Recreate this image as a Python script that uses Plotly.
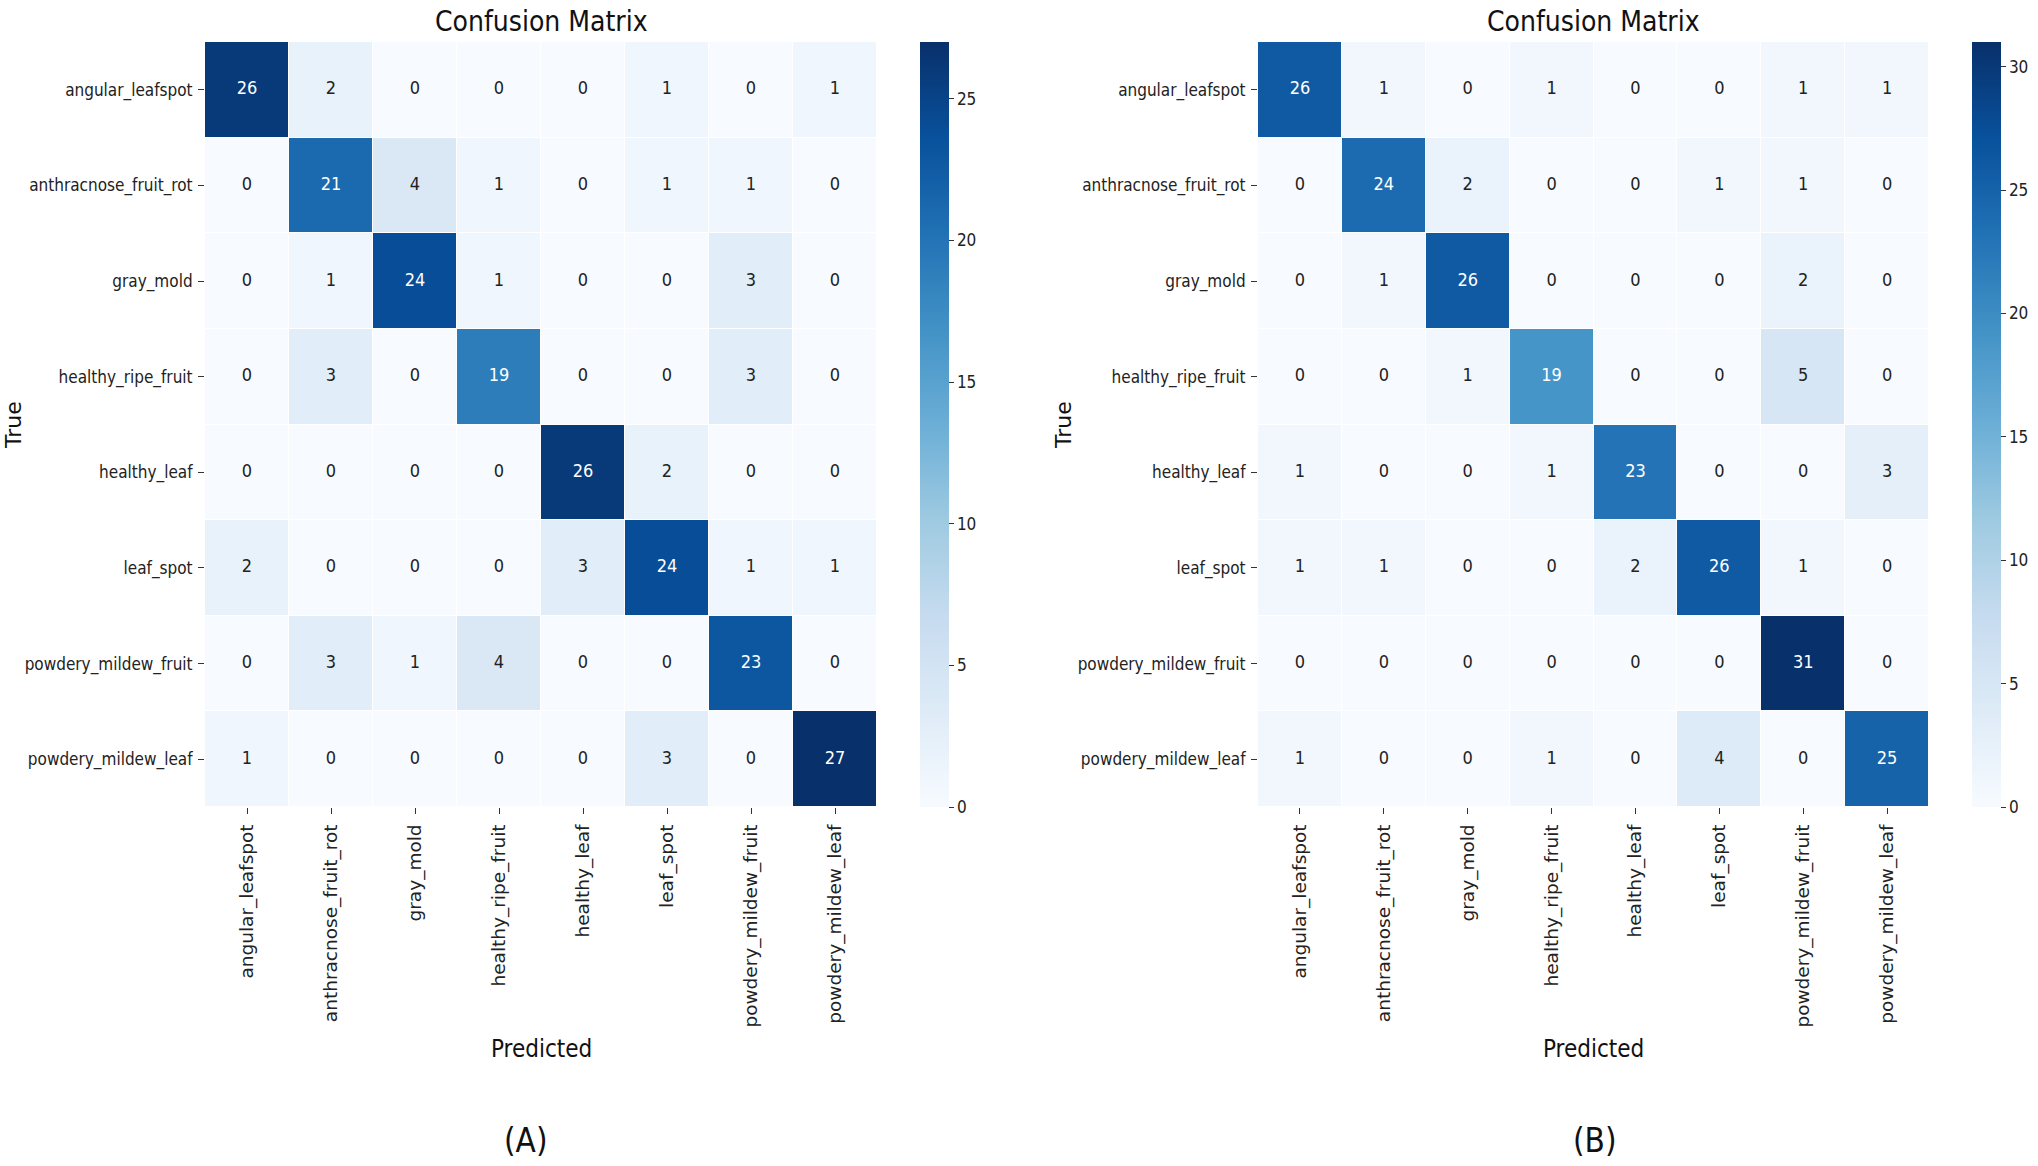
from plotly import graph_objects as go
from plotly.colors import sequential

# class names (rows = true, columns = predicted)
classes = [
    "angular_leafspot",
    "anthracnose_fruit_rot",
    "gray_mold",
    "healthy_ripe_fruit",
    "healthy_leaf",
    "leaf_spot",
    "powdery_mildew_fruit",
    "powdery_mildew_leaf",
]

# confusion matrix (A)
cm_a = [
    [26, 2, 0, 0, 0, 1, 0, 1],
    [0, 21, 4, 1, 0, 1, 1, 0],
    [0, 1, 24, 1, 0, 0, 3, 0],
    [0, 3, 0, 19, 0, 0, 3, 0],
    [0, 0, 0, 0, 26, 2, 0, 0],
    [2, 0, 0, 0, 3, 24, 1, 1],
    [0, 3, 1, 4, 0, 0, 23, 0],
    [1, 0, 0, 0, 0, 3, 0, 27],
]

# confusion matrix (B)
cm_b = [
    [26, 1, 0, 1, 0, 0, 1, 1],
    [0, 24, 2, 0, 0, 1, 1, 0],
    [0, 1, 26, 0, 0, 0, 2, 0],
    [0, 0, 1, 19, 0, 0, 5, 0],
    [1, 0, 0, 1, 23, 0, 0, 3],
    [1, 1, 0, 0, 2, 26, 1, 0],
    [0, 0, 0, 0, 0, 0, 31, 0],
    [1, 0, 0, 1, 0, 4, 0, 25],
]

cbar_ticks_a = [0, 5, 10, 15, 20, 25]
cbar_ticks_b = [0, 5, 10, 15, 20, 25, 30]

# full page figure (body margin removed below)
W, H = 2038, 1166
NARROW = "DejaVu Sans Condensed, Liberation Sans Narrow, DejaVu Sans, sans-serif"
WIDE = "DejaVu Sans, sans-serif"


def px(x):
    return x / W


def py(y):
    return 1 - y / H


# pixel boxes (page coords) of the two heat maps
panels = [
    dict(cm=cm_a, ticks=cbar_ticks_a, x0=205, x1=877, cb=920, true_x=14, lab="(A)", lab_x=525),
    dict(cm=cm_b, ticks=cbar_ticks_b, x0=1258, x1=1929, cb=1972, true_x=1064, lab="(B)", lab_x=1595),
]
y_top, y_bot = 42, 807

fig = go.Figure()
annotations = []
for i, p in enumerate(panels):
    n = i + 1
    xa = "x" if n == 1 else "x2"
    ya = "y" if n == 1 else "y2"
    cm = p["cm"]
    zmax = max(max(r) for r in cm)

    fig.add_trace(go.Heatmap(
        z=cm, x=classes, y=classes,
        xaxis=xa, yaxis=ya,
        colorscale=sequential.Blues,
        zmin=0, zmax=zmax,
        xgap=1, ygap=1,
        hoverinfo="skip",
        colorbar=dict(
            x=px(p["cb"]), xanchor="left", xpad=0,
            y=py(y_bot), yanchor="bottom", ypad=0,
            len=(y_bot - y_top) / H, lenmode="fraction",
            thickness=29, outlinewidth=0,
            tickvals=p["ticks"], ticks="outside", ticklen=5,
            tickcolor="#333", tickfont=dict(family=NARROW, size=17, color="#222"),
        ),
    ))

    # cell labels
    xs, ys, txt, col = [], [], [], []
    for r, row in enumerate(cm):
        for c, v in enumerate(row):
            xs.append(classes[c])
            ys.append(classes[r])
            txt.append(str(v))
            col.append("white" if v / zmax > 0.5 else "#222")
    fig.add_trace(go.Scatter(
        x=xs, y=ys, text=txt, mode="text",
        xaxis=xa, yaxis=ya,
        textfont=dict(family=NARROW, size=18, color=col),
        hoverinfo="skip", showlegend=False,
    ))

    xc = px((p["x0"] + p["x1"]) / 2)
    fig.layout["xaxis" if n == 1 else "xaxis2"] = dict(
        domain=[px(p["x0"]), px(p["x1"])], anchor=ya,
        tickangle=-90, ticks="outside", ticklen=6, tickcolor="#333",
        ticklabelstandoff=3,
        tickfont=dict(family=WIDE, size=18.5, color="#222"),
        showgrid=False, zeroline=False, showline=False,
    )
    fig.layout["yaxis" if n == 1 else "yaxis2"] = dict(
        domain=[py(y_bot), py(y_top)], anchor=xa,
        autorange="reversed", ticks="outside", ticklen=6, tickcolor="#333",
        ticklabelstandoff=2,
        tickfont=dict(family=NARROW, size=17, color="#222"),
        showgrid=False, zeroline=False, showline=False,
    )

    common = dict(xref="paper", yref="paper", xanchor="center", yanchor="middle", showarrow=False)
    annotations += [
        dict(text="Confusion Matrix", x=xc, y=py(21), font=dict(family=NARROW, size=28, color="#111"), **common),
        dict(text="Predicted", x=xc, y=py(1049), font=dict(family=NARROW, size=24, color="#111"), **common),
        dict(text="True", x=px(p["true_x"]), y=py(425), textangle=-90,
             font=dict(family=WIDE, size=22, color="#111"), **common),
        dict(text=p["lab"], x=px(p["lab_x"]), y=py(1140), font=dict(family=NARROW, size=33, color="#111"), **common),
    ]

fig.update_layout(
    width=W, height=H,
    margin=dict(l=0, r=0, t=0, b=0),
    paper_bgcolor="white", plot_bgcolor="white",
    annotations=annotations,
    showlegend=False,
)

fig.write_html(
    "out.html",
    config={"displayModeBar": False},
    post_script="document.body.style.margin = '0';",
)
